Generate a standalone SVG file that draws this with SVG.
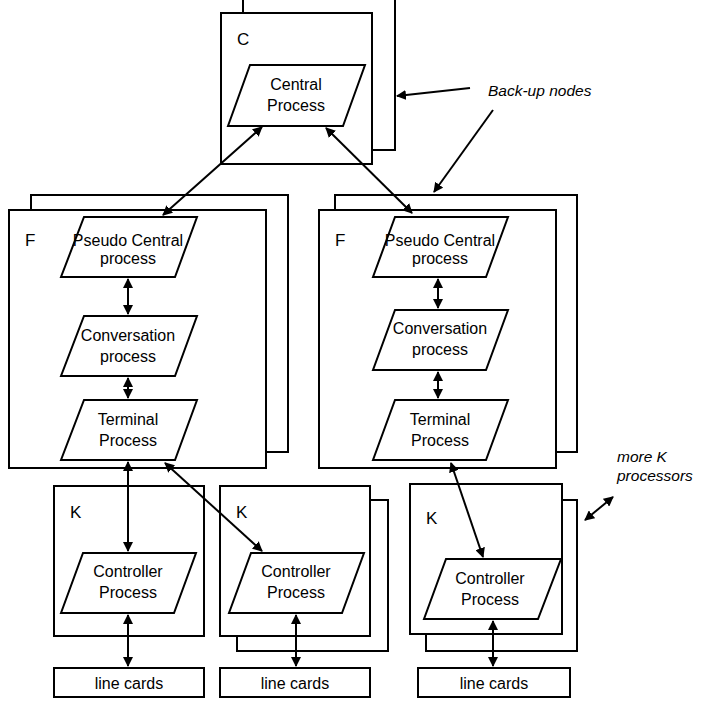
<svg xmlns="http://www.w3.org/2000/svg" width="705" height="702" viewBox="0 0 705 702">
<style>
.b{fill:#fff;stroke:#000;stroke-width:2}
.t{font-family:"Liberation Sans",Arial,sans-serif;font-size:16px;text-anchor:middle;fill:#000}
.l{font-family:"Liberation Sans",Arial,sans-serif;font-size:17px;fill:#000}
.i{font-family:"Liberation Sans",Arial,sans-serif;font-size:15.5px;font-style:italic;fill:#000}
.c{stroke:#000;stroke-width:2;fill:none}
</style>
<defs>
<marker id="a" viewBox="0 0 10 10" refX="9" refY="5" markerWidth="5" markerHeight="5" orient="auto-start-reverse" markerUnits="strokeWidth">
<path d="M0,0L10,5L0,10z" fill="#000"/></marker>
</defs>
<g id="C">
<rect class="b" x="243" y="-10" width="152" height="160"/>
<rect class="b" x="221" y="13" width="151" height="151"/>
<text class="l" x="237" y="45">C</text>
<polygon class="b" points="250,65 365,65 343,126 228,126"/>
<text class="t" x="296" y="90">Central</text><text class="t" x="296" y="111">Process</text>
</g>
<g id="FL">
<rect class="b" x="31" y="195" width="257" height="257"/>
<rect class="b" x="9" y="210" width="257" height="258"/>
<text class="l" x="25" y="246">F</text>
<polygon class="b" points="84,217 197,217 175,277 61,277"/>
<text class="t" x="128" y="246">Pseudo Central</text><text class="t" x="128" y="264">process</text>
<polygon class="b" points="84,316 197,316 175,376 61,376"/>
<text class="t" x="128" y="341">Conversation</text><text class="t" x="128" y="362">process</text>
<polygon class="b" points="84,400 197,400 175,460 61,460"/>
<text class="t" x="128" y="425">Terminal</text><text class="t" x="128" y="446">Process</text>
</g>
<g id="FR">
<rect class="b" x="335" y="195" width="242" height="257"/>
<rect class="b" x="319" y="210" width="237" height="258"/>
<text class="l" x="335" y="246">F</text>
<polygon class="b" points="395,217 508,217 486,277 373,277"/>
<text class="t" x="440" y="246">Pseudo Central</text><text class="t" x="440" y="264">process</text>
<polygon class="b" points="395,310 508,310 486,370 373,370"/>
<text class="t" x="440" y="334">Conversation</text><text class="t" x="440" y="355">process</text>
<polygon class="b" points="395,400 508,400 486,460 373,460"/>
<text class="t" x="440" y="425">Terminal</text><text class="t" x="440" y="446">Process</text>
</g>
<g id="K1">
<rect class="b" x="54" y="486" width="150" height="150"/>
<text class="l" x="70" y="518">K</text>
<polygon class="b" points="83,553 196,553 174,613 61,613"/>
<text class="t" x="128" y="577">Controller</text><text class="t" x="128" y="598">Process</text>
</g>
<g id="K2">
<rect class="b" x="237" y="500" width="151" height="151"/>
<rect class="b" x="220" y="486" width="150" height="150"/>
<text class="l" x="236" y="518">K</text>
<polygon class="b" points="251,553 364,553 342,613 229,613"/>
<text class="t" x="296" y="577">Controller</text><text class="t" x="296" y="598">Process</text>
</g>
<g id="K3">
<rect class="b" x="426" y="500" width="151" height="151"/>
<rect class="b" x="410" y="484" width="152" height="150"/>
<text class="l" x="426" y="524">K</text>
<polygon class="b" points="446,559 561,559 538,619 424,619"/>
<text class="t" x="490" y="584">Controller</text><text class="t" x="490" y="605">Process</text>
</g>
<g id="LC">
<rect class="b" x="54" y="668" width="150" height="29"/><text class="t" x="129" y="689">line cards</text>
<rect class="b" x="220" y="668" width="150" height="29"/><text class="t" x="295" y="689">line cards</text>
<rect class="b" x="418" y="668" width="152" height="29"/><text class="t" x="494" y="689">line cards</text>
</g>
<g id="labels">
<text class="i" x="488" y="96">Back-up nodes</text>
<text class="i" x="617" y="462">more K</text>
<text class="i" x="617" y="481">processors</text>
</g>
<g id="connectors">
<line class="c" x1="470" y1="88" x2="397" y2="96" marker-end="url(#a)"/>
<line class="c" x1="493" y1="110" x2="434" y2="192" marker-end="url(#a)"/>
<line class="c" x1="163" y1="215" x2="262" y2="127" marker-start="url(#a)" marker-end="url(#a)"/>
<line class="c" x1="412" y1="213" x2="326" y2="128" marker-start="url(#a)" marker-end="url(#a)"/>
<line class="c" x1="128" y1="279" x2="128" y2="314" marker-start="url(#a)" marker-end="url(#a)"/>
<line class="c" x1="128" y1="378" x2="128" y2="398" marker-start="url(#a)" marker-end="url(#a)"/>
<line class="c" x1="438" y1="279" x2="438" y2="308" marker-start="url(#a)" marker-end="url(#a)"/>
<line class="c" x1="438" y1="372" x2="438" y2="398" marker-start="url(#a)" marker-end="url(#a)"/>
<line class="c" x1="128" y1="462" x2="128" y2="551" marker-start="url(#a)" marker-end="url(#a)"/>
<line class="c" x1="165" y1="463" x2="262" y2="551" marker-start="url(#a)" marker-end="url(#a)"/>
<line class="c" x1="451" y1="463" x2="483" y2="557" marker-start="url(#a)" marker-end="url(#a)"/>
<line class="c" x1="128" y1="615" x2="128" y2="666" marker-start="url(#a)" marker-end="url(#a)"/>
<line class="c" x1="296" y1="615" x2="296" y2="666" marker-start="url(#a)" marker-end="url(#a)"/>
<line class="c" x1="493" y1="621" x2="493" y2="666" marker-start="url(#a)" marker-end="url(#a)"/>
<line class="c" x1="585" y1="520" x2="613" y2="497" marker-start="url(#a)" marker-end="url(#a)"/>
</g>
</svg>
